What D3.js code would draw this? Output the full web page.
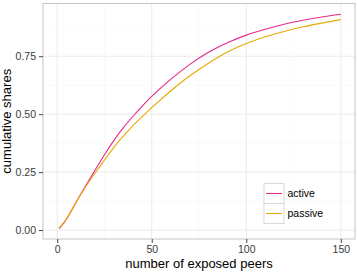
<!DOCTYPE html>
<html>
<head>
<meta charset="utf-8">
<script src="https://cdn.jsdelivr.net/npm/d3@7"></script>
<style>
  body { margin: 0; background: #fff; }
  text { font-family: "Liberation Sans", Arial, sans-serif; }
</style>
</head>
<body>
<div class="canvas"></div>
<script>
const peers = [1, 5, 10, 15, 20, 25, 30, 35, 40, 45, 50, 60, 70, 80, 90, 100, 110, 120, 130, 140, 150];
const active = [0.006, 0.048, 0.12, 0.19, 0.258, 0.325, 0.387, 0.442, 0.49, 0.535, 0.577, 0.65, 0.714, 0.767, 0.808, 0.841, 0.866, 0.888, 0.905, 0.919, 0.931];
const passive = [0.008, 0.05, 0.12, 0.186, 0.245, 0.302, 0.357, 0.405, 0.45, 0.49, 0.528, 0.6, 0.665, 0.72, 0.768, 0.805, 0.834, 0.857, 0.877, 0.893, 0.908];
const seriesNames = ['active', 'passive'];
const xTicks = [0, 50, 100, 150];
const yTicks = [0, 0.25, 0.5, 0.75];

const dims = { width: 357, height: 273, left: 43, top: 3.5, right: 355, bottom: 239 };
const colour = d3.scaleOrdinal(seriesNames, ['#e7298a', '#e6ab02']);

const svg = d3.select('.canvas').append('svg')
    .attr('width', dims.width)
    .attr('height', dims.height);

const x = d3.scaleLinear().domain([-7.5, 157.5]).range([dims.left, dims.right]);
const y = d3.scaleLinear().domain([-0.0385, 0.9775]).range([dims.bottom, dims.top]);

// grid
const grid = svg.append('g');
[25, 75, 125].forEach(v => grid.append('line')
    .attr('x1', x(v)).attr('x2', x(v)).attr('y1', dims.top).attr('y2', dims.bottom)
    .attr('stroke', '#f6f6f6').attr('stroke-width', 0.6));
[0.125, 0.375, 0.625, 0.875].forEach(v => grid.append('line')
    .attr('y1', y(v)).attr('y2', y(v)).attr('x1', dims.left).attr('x2', dims.right)
    .attr('stroke', '#f6f6f6').attr('stroke-width', 0.6));
xTicks.forEach(v => grid.append('line')
    .attr('x1', x(v)).attr('x2', x(v)).attr('y1', dims.top).attr('y2', dims.bottom)
    .attr('stroke', '#ebebeb').attr('stroke-width', 1));
yTicks.forEach(v => grid.append('line')
    .attr('y1', y(v)).attr('y2', y(v)).attr('x1', dims.left).attr('x2', dims.right)
    .attr('stroke', '#ebebeb').attr('stroke-width', 1));

// lines
const line = d3.line()
    .x(d => x(d[0]))
    .y(d => y(d[1]))
    .curve(d3.curveNatural);

[active, passive].forEach((vals, i) => {
    svg.append('path')
        .datum(peers.map((p, j) => [p, vals[j]]))
        .attr('fill', 'none')
        .attr('stroke', colour(seriesNames[i]))
        .attr('stroke-width', 1.1)
        .attr('d', line);
});

// panel border
svg.append('rect')
    .attr('x', dims.left).attr('y', dims.top)
    .attr('width', dims.right - dims.left).attr('height', dims.bottom - dims.top)
    .attr('fill', 'none').attr('stroke', '#c4c4c4').attr('stroke-width', 1);

// axes
const xAxis = svg.append('g')
    .attr('transform', `translate(0,${dims.bottom})`)
    .call(d3.axisBottom(x).tickValues(xTicks).tickSize(4).tickPadding(3).tickFormat(d3.format('d')));
const yAxis = svg.append('g')
    .attr('transform', `translate(${dims.left},0)`)
    .call(d3.axisLeft(y).tickValues(yTicks).tickSize(4).tickPadding(3).tickFormat(d3.format('.2f')));
[xAxis, yAxis].forEach(a => {
    a.select('.domain').remove();
    a.selectAll('.tick line').attr('stroke', '#444');
    a.selectAll('.tick text').attr('fill', '#3a3a3a').style('font-size', '10.5px')
        .style('font-family', '"Liberation Sans", Arial, sans-serif');
});

// titles
svg.append('text')
    .attr('x', (dims.left + dims.right) / 2)
    .attr('y', 268)
    .attr('text-anchor', 'middle')
    .style('font-size', '13px')
    .text('number of exposed peers');
svg.append('text')
    .attr('transform', `translate(11,${(dims.top + dims.bottom) / 2}) rotate(-90)`)
    .attr('text-anchor', 'middle')
    .style('font-size', '13px')
    .text('cumulative shares');

// legend
const legend = svg.append('g').attr('transform', 'translate(264,183.5)');
seriesNames.forEach((name, i) => {
    const g = legend.append('g').attr('transform', `translate(0,${i * 20})`);
    g.append('rect')
        .attr('width', 20).attr('height', 20)
        .attr('fill', '#fff').attr('stroke', '#d0d0d0').attr('stroke-width', 0.8);
    g.append('line')
        .attr('x1', 2).attr('x2', 18).attr('y1', 10).attr('y2', 10)
        .attr('stroke', colour(name)).attr('stroke-width', 1.1);
    g.append('text')
        .attr('x', 23.5).attr('y', 10).attr('dy', '0.35em')
        .style('font-size', '10.5px')
        .text(name);
});
</script>
</body>
</html>
